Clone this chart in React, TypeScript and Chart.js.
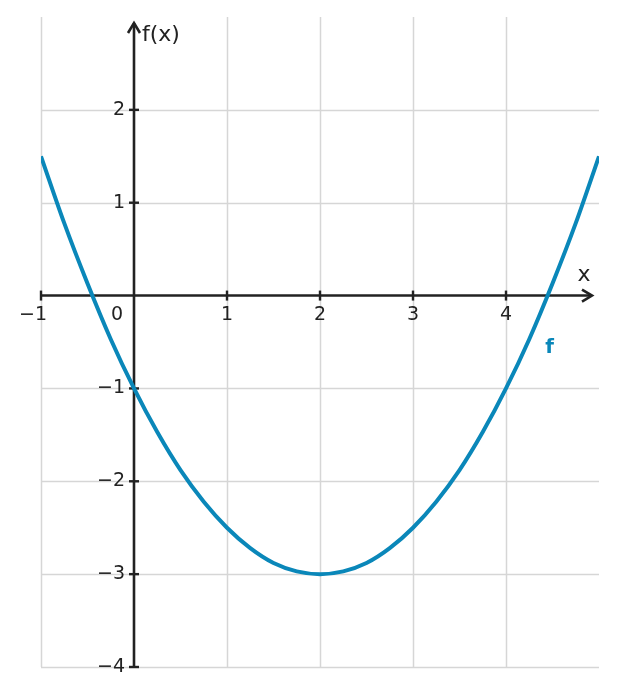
import React, { useEffect, useRef } from "react";
import { Chart, registerables } from "chart.js";

Chart.register(...registerables);

// Sample points
const xValues = [-1, -0.75, -0.5, -0.25, 0, 0.25, 0.5, 0.75, 1, 1.25, 1.5, 1.75, 2, 2.25, 2.5, 2.75, 3, 3.25, 3.5, 3.75, 4, 4.25, 4.5, 4.75, 5];
const fValues = [1.5, 0.78, 0.13, -0.47, -1, -1.47, -1.88, -2.22, -2.5, -2.72, -2.88, -2.97, -3, -2.97, -2.88, -2.72, -2.5, -2.22, -1.88, -1.47, -1, -0.47, 0.13, 0.78, 1.5];

const xTicks = [-1, 1, 2, 3, 4];
const xTickLabels = ["\u22121", "1", "2", "3", "4"];
const yTicks = [2, 1, -1, -2, -3, -4];
const yTickLabels = ["2", "1", "\u22121", "\u22122", "\u22123", "\u22124"];
const xGrid = [-1, 1, 2, 3, 4];
const yGrid = [2, 1, -1, -2, -3, -4];

const X_MIN = -1, X_MAX = 5, Y_MIN = -4, Y_MAX = 3;
const FONT = '19px "DejaVu Sans"';
const TITLE_FONT = '22px "DejaVu Sans"';
const INK = "#222222";
const BLUE = "#0a87b9";

const axesPlugin = {
  id: "axesPlugin",
  beforeDatasetsDraw(chart: any) {
    const { ctx, chartArea, scales } = chart;
    const xs = scales.x, ys = scales.y;
    const x0 = xs.getPixelForValue(0);
    const y0 = ys.getPixelForValue(0);
    ctx.save();
    // grid
    ctx.strokeStyle = "#d6d6d6";
    ctx.lineWidth = 1.5;
    for (const g of xGrid) {
      const px = Math.round(xs.getPixelForValue(g)) + 0.5;
      ctx.beginPath();
      ctx.moveTo(px, chartArea.top);
      ctx.lineTo(px, chartArea.bottom);
      ctx.stroke();
    }
    for (const g of yGrid) {
      const py = Math.round(ys.getPixelForValue(g)) + 0.5;
      ctx.beginPath();
      ctx.moveTo(chartArea.left, py);
      ctx.lineTo(chartArea.right, py);
      ctx.stroke();
    }
    // axes
    ctx.strokeStyle = INK;
    ctx.lineWidth = 2.6;
    const xStart = xs.getPixelForValue(X_MIN);
    const xEnd = chartArea.right - 7;
    ctx.beginPath();
    ctx.moveTo(xStart, y0);
    ctx.lineTo(xEnd, y0);
    ctx.stroke();
    const yStart = ys.getPixelForValue(Y_MIN);
    const yEnd = chartArea.top + 6;
    ctx.beginPath();
    ctx.moveTo(x0, yStart);
    ctx.lineTo(x0, yEnd);
    ctx.stroke();
    // arrows
    ctx.lineJoin = "miter";
    ctx.beginPath();
    ctx.moveTo(xEnd - 10, y0 - 6);
    ctx.lineTo(xEnd, y0);
    ctx.lineTo(xEnd - 10, y0 + 6);
    ctx.stroke();
    ctx.beginPath();
    ctx.moveTo(x0 - 6, yEnd + 10);
    ctx.lineTo(x0, yEnd);
    ctx.lineTo(x0 + 6, yEnd + 10);
    ctx.stroke();
    // ticks
    ctx.lineWidth = 2.4;
    ctx.fillStyle = INK;
    ctx.font = FONT;
    ctx.textAlign = "center";
    ctx.textBaseline = "middle";
    xTicks.forEach((t, i) => {
      const px = xs.getPixelForValue(t);
      ctx.beginPath();
      ctx.moveTo(px, y0 - 5);
      ctx.lineTo(px, y0 + 5);
      ctx.stroke();
      const shift = xTickLabels[i].startsWith("\u2212") ? -8 : 0;
      ctx.fillText(xTickLabels[i], px + shift, y0 + 19);
    });
    ctx.textAlign = "right";
    yTicks.forEach((t, i) => {
      const py = ys.getPixelForValue(t);
      ctx.beginPath();
      ctx.moveTo(x0 - 5, py);
      ctx.lineTo(x0 + 5, py);
      ctx.stroke();
      ctx.fillText(yTickLabels[i], x0 - 9, py);
    });
    // origin label
    ctx.textAlign = "center";
    ctx.fillText("0", x0 - 17, y0 + 19);
    // axis titles
    ctx.font = TITLE_FONT;
    ctx.textAlign = "left";
    ctx.fillText("f(x)", x0 + 8, chartArea.top + 18);
    ctx.textAlign = "center";
    ctx.fillText("x", xs.getPixelForValue(4.84), y0 - 20);
    ctx.restore();
  },
  afterDatasetsDraw(chart: any) {
    const { ctx, scales } = chart;
    ctx.save();
    ctx.fillStyle = BLUE;
    ctx.font = 'bold 20px "DejaVu Sans"';
    ctx.textAlign = "center";
    ctx.textBaseline = "middle";
    ctx.fillText("f", scales.x.getPixelForValue(4.47), scales.y.getPixelForValue(-0.56));
    ctx.restore();
  },
};

export default function App() {
  const ref = useRef<HTMLCanvasElement | null>(null);
  useEffect(() => {
    if (!ref.current) return;
    const chart = new Chart(ref.current, {
      type: "line",
      data: {
        datasets: [
          {
            label: "f",
            data: xValues.map((x, i) => ({ x, y: fValues[i] })),
            borderColor: BLUE,
            borderWidth: 4,
            pointRadius: 0,
            fill: false,
            cubicInterpolationMode: "monotone",
          },
        ],
      },
      options: {
        animation: false,
        responsive: false,
        layout: { padding: { left: 41, right: 18, top: 17, bottom: 29 } },
        plugins: { legend: { display: false }, tooltip: { enabled: false } },
        scales: {
          x: { type: "linear", min: X_MIN, max: X_MAX, display: false },
          y: { type: "linear", min: Y_MIN, max: Y_MAX, display: false },
        },
      },
      plugins: [axesPlugin],
    });
    return () => chart.destroy();
  }, []);
  return (
    <div style={{ position: "fixed", left: 0, top: 0, width: 617, height: 696, background: "#fff" }}>
      <canvas ref={ref} width={617} height={696} style={{ width: 617, height: 696, display: "block" }} />
    </div>
  );
}
